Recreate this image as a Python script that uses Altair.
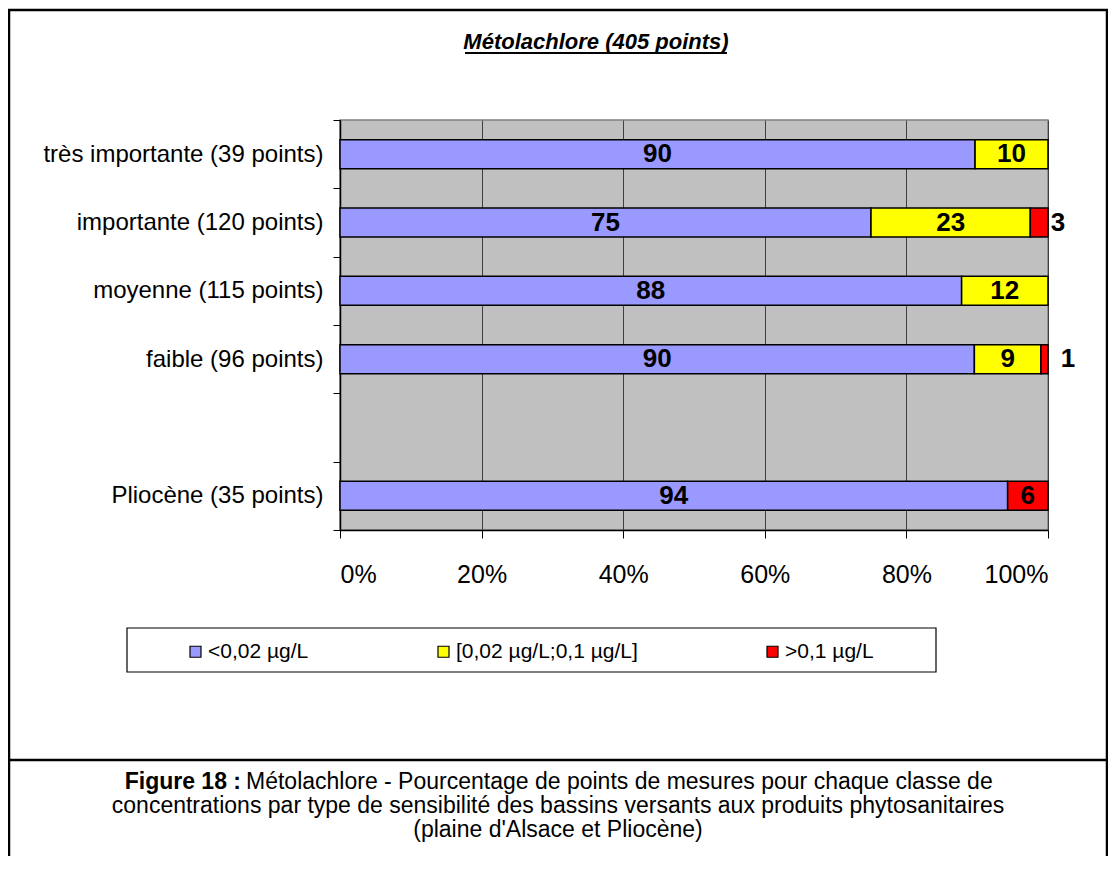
import altair as alt
import pandas as pd

# ---- data ----
categories = ["très importante (39 points)", "importante (120 points)",
              "moyenne (115 points)", "faible (96 points)", "Pliocène (35 points)"]
y_order = ["très importante (39 points)", "importante (120 points)",
           "moyenne (115 points)", "faible (96 points)", " ", "Pliocène (35 points)"]
classes = ["<0,02 µg/L", "[0,02 µg/L;0,1 µg/L]", ">0,1 µg/L"]
colors = ["#9999FF", "#FFFF00", "#FF0000"]
pct_low = [89.7, 75.0, 87.8, 89.6, 94.3]
pct_mid = [10.3, 22.5, 12.2, 9.4, 0.0]
pct_high = [0.0, 2.5, 0.0, 1.0, 5.7]
x_ticks = [0, 20, 40, 60, 80, 100]

title_text = "Métolachlore (405 points)"
caption_bold = "Figure 18 :"
caption_l1 = "Métolachlore - Pourcentage de points de mesures pour chaque classe de"
caption_l2 = "concentrations par type de sensibilité des bassins versants aux produits phytosanitaires"
caption_l3 = "(plaine d'Alsace et Pliocène)"

FONT = "Liberation Sans"

rows = []
for i, c in enumerate(categories):
    start = 0.0
    for k, vals in enumerate([pct_low, pct_mid, pct_high]):
        v = vals[i]
        if v > 0:
            rows.append({"cat": c, "cls": classes[k], "order": k, "start": start,
                         "end": start + v, "mid": start + v / 2, "val": v,
                         "lab": str(int(v + 0.5))})
        start += v
df = pd.DataFrame(rows)

W, H = 708, 410

yscale = alt.Scale(domain=y_order, paddingInner=0, paddingOuter=0)
xscale = alt.Scale(domain=[0, 100], nice=False, zero=True)

bars = alt.Chart(df).mark_bar(stroke="black", strokeWidth=1.5, height=29).encode(
    y=alt.Y("cat:N", scale=yscale, sort=y_order,
            axis=alt.Axis(title=None, tickBand="extent", labelFont=FONT, labelFontSize=24,
                          labelColor="black", tickColor="black", tickSize=7,
                          domainColor="black", domainWidth=1.5, labelPadding=10,
                          labelLimit=400, grid=False)),
    x=alt.X("start:Q", scale=xscale,
            axis=alt.Axis(title=None, values=x_ticks, labelExpr="datum.value + '%'",
                          labelFont=FONT, labelFontSize=25, labelColor="black",
                          tickColor="black", tickSize=8, domainColor="black",
                          domainWidth=1.5, labelPadding=24, grid=True,
                          gridColor="#404040", gridWidth=1)),
    x2="end:Q",
    color=alt.Color("cls:N", scale=alt.Scale(domain=classes, range=colors),
                    legend=alt.Legend(title=None, orient="none", legendX=-155, legendY=521,
                                      direction="horizontal", symbolType="square",
                                      symbolSize=121, symbolStrokeColor="black",
                                      symbolStrokeWidth=1.2, labelFont=FONT,
                                      labelFontSize=21, labelColor="black",
                                      labelLimit=400,
                                      labelOffset=2, columnPadding=124, padding=0)),
    order=alt.Order("order:Q"),
)

inside = alt.Chart(df).transform_filter("datum.val >= 4").mark_text(
    font=FONT, fontSize=26, fontWeight="bold", color="black", baseline="middle"
).encode(
    y=alt.Y("cat:N", scale=yscale, sort=y_order),
    x=alt.X("mid:Q", scale=xscale),
    text="lab:N",
)

out1 = alt.Chart(df).transform_filter(
    "datum.val < 4 && datum.cat == 'importante (120 points)'").mark_text(
    font=FONT, fontSize=26, fontWeight="bold", color="black", baseline="middle", dx=10
).encode(
    y=alt.Y("cat:N", scale=yscale, sort=y_order),
    x=alt.X("end:Q", scale=xscale),
    text="lab:N",
)
out2 = alt.Chart(df).transform_filter(
    "datum.val < 4 && datum.cat == 'faible (96 points)'").mark_text(
    font=FONT, fontSize=26, fontWeight="bold", color="black", baseline="middle", dx=20
).encode(
    y=alt.Y("cat:N", scale=yscale, sort=y_order),
    x=alt.X("end:Q", scale=xscale),
    text="lab:N",
)

# ---- decorations (page coords relative to plot origin at page (340,120)) ----
one = pd.DataFrame({"t": [title_text]})
title = alt.Chart(one).mark_text(font=FONT, fontSize=22, fontWeight="bold",
                                 fontStyle="italic", color="black",
                                 align="center", baseline="middle").encode(
    x=alt.value(256), y=alt.value(-78), text="t:N")
underline = alt.Chart(one).mark_rule(color="black", strokeWidth=2).encode(
    x=alt.value(125), x2=alt.value(387), y=alt.value(-67))

frame = alt.Chart(one).mark_rect(fillOpacity=0, stroke="black", strokeWidth=2.5).encode(
    x=alt.value(-331), x2=alt.value(767), y=alt.value(-110), y2=alt.value(800))
sep = alt.Chart(one).mark_rule(color="black", strokeWidth=2.5).encode(
    x=alt.value(-331), x2=alt.value(767), y=alt.value(640))
legbox = alt.Chart(one).mark_rect(fillOpacity=0, stroke="black", strokeWidth=1.2).encode(
    x=alt.value(-213), x2=alt.value(596), y=alt.value(508), y2=alt.value(552))

CAP = 23
cap_b = alt.Chart(pd.DataFrame({"t": [caption_bold]})).mark_text(
    font=FONT, fontSize=CAP, fontWeight="bold", color="black", align="right",
    baseline="middle").encode(x=alt.value(-99), y=alt.value(662), text="t:N")
cap1 = alt.Chart(pd.DataFrame({"t": [caption_l1]})).mark_text(
    font=FONT, fontSize=CAP, color="black", align="left",
    baseline="middle").encode(x=alt.value(-94), y=alt.value(662), text="t:N")
cap2 = alt.Chart(pd.DataFrame({"t": [caption_l2]})).mark_text(
    font=FONT, fontSize=CAP, color="black", align="center",
    baseline="middle").encode(x=alt.value(218), y=alt.value(686), text="t:N")
cap3 = alt.Chart(pd.DataFrame({"t": [caption_l3]})).mark_text(
    font=FONT, fontSize=CAP, color="black", align="center",
    baseline="middle").encode(x=alt.value(218), y=alt.value(710), text="t:N")

chart = alt.layer(
    bars, inside, out1, out2, title, underline, frame, sep, legbox, cap_b, cap1, cap2, cap3
).properties(
    width=W, height=H,
    padding={"left": 332, "top": 112, "right": 60, "bottom": 326},
    autosize=alt.AutoSizeParams(type="none"),
    background="white",
).configure_view(
    fill="#C0C0C0", stroke="#808080", strokeWidth=1.5
)

chart.save("out.html", embed_options={"renderer": "svg", "actions": False})
